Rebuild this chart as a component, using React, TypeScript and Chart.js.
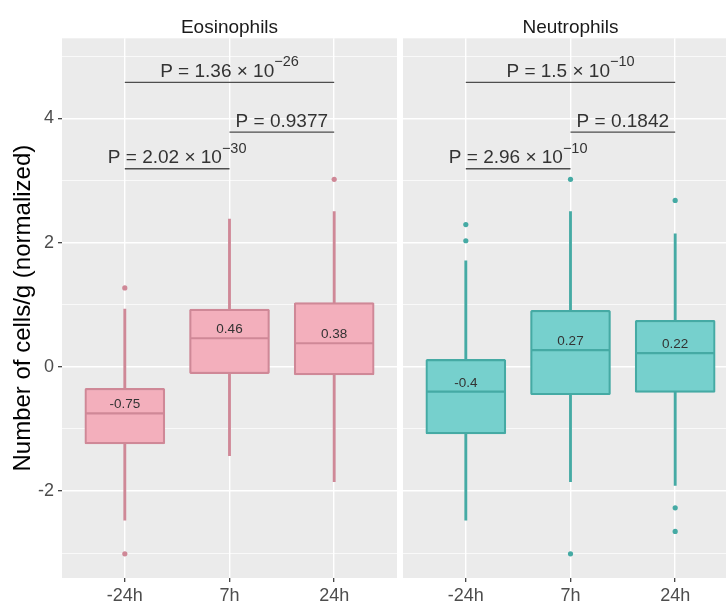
import React, { useEffect, useRef } from 'react';
import { Chart, registerables } from 'chart.js';

Chart.register(...registerables);

const FONT = '"Liberation Sans", Arial, Helvetica, sans-serif';
Chart.defaults.font.family = FONT;

// ---------------- data ----------------
const categories = ['-24h', '7h', '24h'];
const facetNames = ['Eosinophils', 'Neutrophils'];

const eosLowerWhisker = [-2.47, -1.43, -1.85];
const eosQ1 = [-1.24, -0.11, -0.13];
const eosMedian = [-0.75, 0.46, 0.38];
const eosQ3 = [-0.345, 0.93, 1.035];
const eosUpperWhisker = [0.93, 2.38, 2.5];
const eosOutliers = [[1.27, -3.01], [], [3.02]];

const neuLowerWhisker = [-2.47, -1.85, -1.91];
const neuQ1 = [-1.08, -0.45, -0.41];
const neuMedian = [-0.4, 0.27, 0.22];
const neuQ3 = [0.12, 0.91, 0.75];
const neuUpperWhisker = [1.705, 2.5, 2.14];
const neuOutliers = [[2.29, 2.03], [3.02, -3.01], [2.68, -2.27, -2.65]];

// comparisons (category positions 1..3)
const bracketFrom = [1, 2, 1];
const bracketTo = [3, 3, 2];
const bracketY = [4.58, 3.78, 3.19];
const eosPMantissa = ['1.36', '0.9377', '2.02'];
const eosPExponent = ['\u221226', '', '\u221230'];
const neuPMantissa = ['1.5', '0.1842', '2.96'];
const neuPExponent = ['\u221210', '', '\u221210'];

const yTickValues = [-3, -2, -1, 0, 1, 2, 3, 4, 5];
const yMin = -3.4;
const yMax = 5.29;
const yTitle = 'Number of cells/g (normalized)';

type Facet = {
  name: string;
  lo: number[]; q1: number[]; med: number[]; q3: number[]; hi: number[];
  out: number[][];
  pMant: string[]; pExp: string[];
  fill: string; line: string;
};

const facets: Facet[] = [
  {
    name: facetNames[0], lo: eosLowerWhisker, q1: eosQ1, med: eosMedian, q3: eosQ3, hi: eosUpperWhisker,
    out: eosOutliers, pMant: eosPMantissa, pExp: eosPExponent, fill: '#F3AFBC', line: '#CF8897',
  },
  {
    name: facetNames[1], lo: neuLowerWhisker, q1: neuQ1, med: neuMedian, q3: neuQ3, hi: neuUpperWhisker,
    out: neuOutliers, pMant: neuPMantissa, pExp: neuPExponent, fill: '#76D0CD', line: '#45AAA4',
  },
];

const BOX_W = 80;
const LW = 2.2;

function buildConfig(f: Facet, showY: boolean): any {
  const datasets: any[] = [];
  datasets.push({
    type: 'bar', order: 4, grouped: false, barThickness: LW,
    data: categories.map((_, i) => ({ x: i + 1, y: [f.q1[i], f.lo[i]] })),
    backgroundColor: f.line, borderWidth: 0,
  });
  datasets.push({
    type: 'bar', order: 4, grouped: false, barThickness: LW,
    data: categories.map((_, i) => ({ x: i + 1, y: [f.q3[i], f.hi[i]] })),
    backgroundColor: f.line, borderWidth: 0,
  });
  datasets.push({
    type: 'bar', order: 3, grouped: false, barThickness: BOX_W,
    data: categories.map((_, i) => ({ x: i + 1, y: [f.q1[i], f.q3[i]] })),
    backgroundColor: f.fill, borderColor: f.line, borderWidth: LW, borderSkipped: false, borderRadius: 1.5,
  });
  datasets.push({
    type: 'scatter', order: 2,
    data: f.out.flatMap((arr, i) => arr.map((v) => ({ x: i + 1, y: v }))),
    pointRadius: 2.6, pointHoverRadius: 2.6, pointBackgroundColor: f.line, pointBorderWidth: 0, backgroundColor: f.line,
  });
  bracketFrom.forEach((from, k) => {
    datasets.push({
      type: 'line', order: 1,
      data: [{ x: from, y: bracketY[k] }, { x: bracketTo[k], y: bracketY[k] }],
      borderColor: '#4D4D4D', borderWidth: 1.4, pointRadius: 0, fill: false,
    });
  });

  const decor = {
    id: 'decor_' + f.name,
    beforeDraw(chart: any) {
      const { ctx, chartArea: a } = chart;
      ctx.save();
      ctx.fillStyle = '#EBEBEB';
      ctx.fillRect(a.left, a.top, a.right - a.left, a.bottom - a.top);
      ctx.restore();
    },
    afterDatasetsDraw(chart: any) {
      const { ctx } = chart;
      const xs = chart.scales.x;
      const ys = chart.scales.y;
      ctx.save();
      // medians + labels
      categories.forEach((_, i) => {
        const cx = xs.getPixelForValue(i + 1);
        const my = ys.getPixelForValue(f.med[i]);
        ctx.strokeStyle = f.line;
        ctx.lineWidth = LW;
        ctx.beginPath();
        ctx.moveTo(cx - BOX_W / 2 + LW / 2, my);
        ctx.lineTo(cx + BOX_W / 2 - LW / 2, my);
        ctx.stroke();
        ctx.fillStyle = '#333333';
        ctx.font = '13.5px ' + FONT;
        ctx.textAlign = 'center';
        ctx.textBaseline = 'alphabetic';
        ctx.fillText(String(f.med[i]), cx, my - 5);
      });
      // p-value labels
      bracketFrom.forEach((from, k) => {
        const cx = (xs.getPixelForValue(from) + xs.getPixelForValue(bracketTo[k])) / 2;
        const by = ys.getPixelForValue(bracketY[k]) - 5.5;
        const main = f.pExp[k] ? `P = ${f.pMant[k]} \u00D7 10` : `P = ${f.pMant[k]}`;
        ctx.font = '19px ' + FONT;
        const wm = ctx.measureText(main).width;
        ctx.font = '14.5px ' + FONT;
        const ws = f.pExp[k] ? ctx.measureText(f.pExp[k]).width : 0;
        const x0 = cx - (wm + ws) / 2;
        ctx.fillStyle = '#333333';
        ctx.textAlign = 'left';
        ctx.textBaseline = 'alphabetic';
        ctx.font = '19px ' + FONT;
        ctx.fillText(main, x0, by);
        if (f.pExp[k]) {
          ctx.font = '14.5px ' + FONT;
          ctx.fillText(f.pExp[k], x0 + wm, by - 10.5);
        }
      });
      ctx.restore();
    },
    afterDraw(chart: any) {
      const { ctx, chartArea: a } = chart;
      ctx.save();
      ctx.fillStyle = '#1A1A1A';
      ctx.font = '19px ' + FONT;
      ctx.textAlign = 'center';
      ctx.textBaseline = 'alphabetic';
      ctx.fillText(f.name, (a.left + a.right) / 2, a.top - 5.5);
      ctx.restore();
    },
  };

  return {
    type: 'bar',
    data: { datasets },
    plugins: [decor],
    options: {
      responsive: false,
      animation: false,
      devicePixelRatio: 1,
      layout: { autoPadding: false, padding: { top: 38.3, left: 0, right: 0, bottom: 0 } },
      plugins: { legend: { display: false }, tooltip: { enabled: false } },
      scales: {
        x: {
          type: 'linear', min: 0.4, max: 3.6, offset: false,
          afterBuildTicks: (s: any) => { s.ticks = categories.map((_, i) => ({ value: i + 1 })); },
          afterFit: (s: any) => { s.height = 26; s.paddingLeft = 0; s.paddingRight = 0; },
          ticks: {
            callback: (v: any) => categories[Math.round(v) - 1] ?? '',
            font: { size: 18, family: FONT }, color: '#4D4D4D', padding: 3,
            maxRotation: 0, autoSkip: false,
          },
          grid: { color: '#FFFFFF', lineWidth: 1.4, offset: false, drawTicks: true, tickLength: 4, tickColor: '#333333', tickWidth: 1.2 },
          border: { display: false },
        },
        y: {
          type: 'linear', min: yMin, max: yMax, beginAtZero: false,
          afterBuildTicks: (s: any) => { s.ticks = yTickValues.map((v) => ({ value: v })); },
          afterFit: (s: any) => { s.width = showY ? 62 : 0; s.paddingTop = 0; s.paddingBottom = 0; },
          ticks: {
            display: showY,
            callback: (v: any) => (Math.abs(v % 2) === 0 ? String(v) : ''),
            font: { size: 18, family: FONT }, color: '#4D4D4D', padding: 4,
          },
          grid: {
            color: '#FFFFFF',
            lineWidth: (c: any) => (c.tick && Math.abs(c.tick.value % 2) === 0 ? 1.4 : 0.7),
            drawTicks: showY, tickLength: 4, tickWidth: 1.2,
            tickColor: (c: any) => (c.tick && Math.abs(c.tick.value % 2) === 0 ? '#333333' : 'rgba(0,0,0,0)'),
          },
          border: { display: false },
          title: {
            display: showY, text: yTitle, color: '#000000',
            font: { size: 24, family: FONT }, padding: { top: 8.6, bottom: 0 },
          },
        },
      },
    },
  };
}

function FacetChart({ facet, left, width, showY }: { facet: Facet; left: number; width: number; showY: boolean }) {
  const ref = useRef<HTMLCanvasElement>(null);
  useEffect(() => {
    const chart = new Chart(ref.current as HTMLCanvasElement, buildConfig(facet, showY));
    return () => chart.destroy();
  }, [facet, showY]);
  return (
    <canvas
      ref={ref}
      width={width}
      height={604}
      style={{ position: 'absolute', left, top: 0, width, height: 604 }}
    />
  );
}

export default function App() {
  return (
    <div style={{ position: 'absolute', left: 0, top: 0, width: 726, height: 604, overflow: 'hidden', background: '#FFFFFF' }}>
      <FacetChart facet={facets[0]} left={0} width={397} showY={true} />
      <FacetChart facet={facets[1]} left={403} width={335} showY={false} />
    </div>
  );
}
